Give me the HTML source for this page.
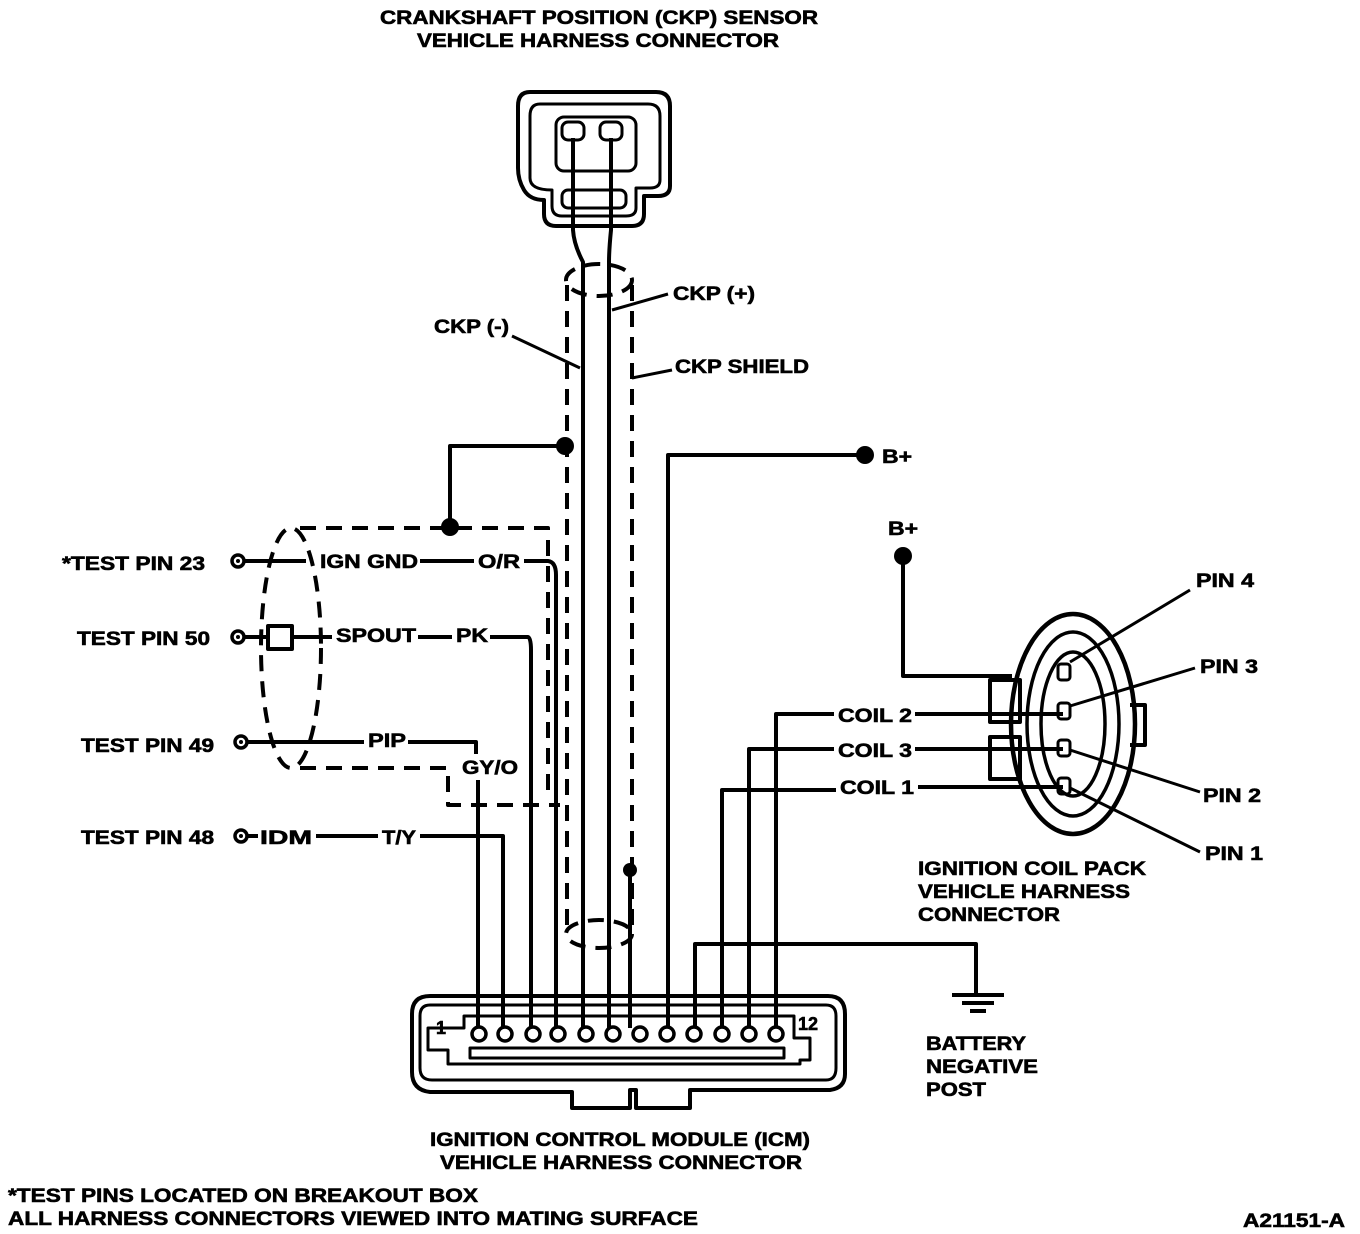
<!DOCTYPE html>
<html><head><meta charset="utf-8"><style>
html,body{margin:0;padding:0;background:#fff;}
svg{display:block;}
text{font-family:"Liberation Sans",Arial,sans-serif;font-weight:bold;fill:#000;stroke:#000;stroke-width:0.6;}
</style></head><body>
<svg width="1360" height="1234" viewBox="0 0 1360 1234" xmlns="http://www.w3.org/2000/svg">
<g font-size="19">
<text x="380" y="24" textLength="438" lengthAdjust="spacingAndGlyphs">CRANKSHAFT POSITION (CKP) SENSOR</text>
<text x="417" y="47" textLength="362" lengthAdjust="spacingAndGlyphs">VEHICLE HARNESS CONNECTOR</text>
<text x="430" y="1146" textLength="380" lengthAdjust="spacingAndGlyphs">IGNITION CONTROL MODULE (ICM)</text>
<text x="440" y="1169" textLength="362" lengthAdjust="spacingAndGlyphs">VEHICLE HARNESS CONNECTOR</text>
<text x="8" y="1202" textLength="470" lengthAdjust="spacingAndGlyphs">*TEST PINS LOCATED ON BREAKOUT BOX</text>
<text x="8" y="1225" textLength="690" lengthAdjust="spacingAndGlyphs">ALL HARNESS CONNECTORS VIEWED INTO MATING SURFACE</text>
<text x="1243" y="1227" textLength="102" lengthAdjust="spacingAndGlyphs">A21151-A</text>
<text x="918" y="875" textLength="228" lengthAdjust="spacingAndGlyphs">IGNITION COIL PACK</text>
<text x="918" y="898" textLength="212" lengthAdjust="spacingAndGlyphs">VEHICLE HARNESS</text>
<text x="918" y="921" textLength="142" lengthAdjust="spacingAndGlyphs">CONNECTOR</text>
</g>
<g font-size="19">
<text x="926" y="1050" textLength="100" lengthAdjust="spacingAndGlyphs">BATTERY</text>
<text x="926" y="1073" textLength="112" lengthAdjust="spacingAndGlyphs">NEGATIVE</text>
<text x="926" y="1096" textLength="60" lengthAdjust="spacingAndGlyphs">POST</text>
<text x="673" y="300" textLength="82" lengthAdjust="spacingAndGlyphs">CKP (+)</text>
<text x="434" y="333" textLength="75" lengthAdjust="spacingAndGlyphs">CKP (-)</text>
<text x="675" y="373" textLength="134" lengthAdjust="spacingAndGlyphs">CKP SHIELD</text>
<text x="882" y="463" textLength="30" lengthAdjust="spacingAndGlyphs">B+</text>
<text x="888" y="535" textLength="30" lengthAdjust="spacingAndGlyphs">B+</text>
<text x="62" y="570" textLength="143" lengthAdjust="spacingAndGlyphs">*TEST PIN 23</text>
<text x="77" y="645" textLength="133" lengthAdjust="spacingAndGlyphs">TEST PIN 50</text>
<text x="81" y="752" textLength="133" lengthAdjust="spacingAndGlyphs">TEST PIN 49</text>
<text x="81" y="844" textLength="133" lengthAdjust="spacingAndGlyphs">TEST PIN 48</text>
<text x="320" y="568" textLength="98" lengthAdjust="spacingAndGlyphs">IGN GND</text>
<text x="478" y="568" textLength="42" lengthAdjust="spacingAndGlyphs">O/R</text>
<text x="336" y="642" textLength="80" lengthAdjust="spacingAndGlyphs">SPOUT</text>
<text x="456" y="642" textLength="32" lengthAdjust="spacingAndGlyphs">PK</text>
<text x="368" y="747" textLength="38" lengthAdjust="spacingAndGlyphs">PIP</text>
<text x="462" y="774" textLength="56" lengthAdjust="spacingAndGlyphs">GY/O</text>
<text x="260" y="844" textLength="52" lengthAdjust="spacingAndGlyphs">IDM</text>
<text x="382" y="844" textLength="34" lengthAdjust="spacingAndGlyphs">T/Y</text>
<text x="838" y="722" textLength="74" lengthAdjust="spacingAndGlyphs">COIL 2</text>
<text x="838" y="757" textLength="74" lengthAdjust="spacingAndGlyphs">COIL 3</text>
<text x="840" y="794" textLength="74" lengthAdjust="spacingAndGlyphs">COIL 1</text>
<text x="1196" y="587" textLength="58" lengthAdjust="spacingAndGlyphs">PIN 4</text>
<text x="1200" y="673" textLength="58" lengthAdjust="spacingAndGlyphs">PIN 3</text>
<text x="1203" y="802" textLength="58" lengthAdjust="spacingAndGlyphs">PIN 2</text>
<text x="1205" y="860" textLength="58" lengthAdjust="spacingAndGlyphs">PIN 1</text>
<text x="436" y="1034" font-size="18">1</text>
<text x="798" y="1030" font-size="18">12</text>
</g>
<g fill="none" stroke="#000" stroke-width="4" stroke-linejoin="round">
<path d="M530 92 H656 Q670 92 670 106 V186 Q670 196 658 196 H644 V214 Q644 226 632 226 H556 Q544 226 544 214 V200 Q530 200 524 190 Q518 180 518 168 V106 Q518 92 530 92 Z"/>
<path d="M540 104 H648 Q660 104 660 116 V180 Q660 188 650 188 H636 V208 Q636 216 626 216 H562 Q552 216 552 206 V190 Q530 190 530 178 V116 Q530 104 540 104 Z" stroke-width="3"/>
<rect x="556" y="117" width="80" height="54" rx="8" stroke-width="3"/>
<rect x="562" y="122" width="22" height="18" rx="6" stroke-width="3"/>
<rect x="600" y="122" width="22" height="18" rx="6" stroke-width="3"/>
<rect x="562" y="190" width="64" height="18" rx="6" stroke-width="3"/>
<path d="M573 138 V230 Q574 245 583 262 V1028"/>
<path d="M611 138 V230 Q609 250 609 262 V1028"/>
<path d="M668 294 L612 310 M512 336 L580 368 M672 370 L632 378" stroke-width="3"/>
<g stroke-dasharray="16 10">
<path d="M567 285 V925"/>
<path d="M632 285 V925"/>
<ellipse cx="599" cy="280" rx="33" ry="16"/>
<ellipse cx="599" cy="934" rx="33" ry="14"/>
<path d="M300 528 H548 V800"/>
<path d="M300 768 H448 V805 H560"/>
<ellipse cx="291" cy="648" rx="30" ry="120"/>
</g>
<path d="M630 872 V1028"/>
<path d="M565 446 H450 V527"/>
<path d="M245 561 H306 M420 561 H474 M524 561 H548 Q556 562 556 575 V1028"/>
<path d="M245 637 H268 M292 637 H332 M418 637 H452 M490 637 H528 Q531 638 531 650 V1028"/>
<path d="M248 742 H364 M408 742 H476 V754 M478 780 V1028"/>
<path d="M248 836 H256 M316 836 H378 M420 836 H503 V1028"/>
<rect x="268" y="626" width="24" height="23"/>
<path d="M865 455 H668 V1028"/>
<path d="M903 556 V676 H1012"/>
<path d="M776 1028 V714 H834 M915 714 H1063"/>
<path d="M749 1028 V749 H834 M915 749 H1063"/>
<path d="M722 1028 V790 H836 M918 787 H1063"/>
<path d="M695 1028 V944 H976 V995"/>
<path d="M952 995 H1004 M962 1003 H994 M970 1011 H986"/>
<ellipse cx="1073" cy="724" rx="62" ry="110" stroke-width="4.5"/>
<ellipse cx="1073" cy="724" rx="46" ry="92" stroke-width="3.5"/>
<ellipse cx="1073" cy="724" rx="32" ry="72" stroke-width="3.5"/>
<path d="M1130 705 H1145 V745 H1130"/>
<rect x="990" y="680" width="30" height="42"/>
<rect x="990" y="737" width="30" height="42"/>
<rect x="1058" y="664" width="12" height="16" rx="3" stroke-width="3"/>
<rect x="1058" y="703" width="12" height="16" rx="3" stroke-width="3"/>
<rect x="1058" y="740" width="12" height="16" rx="3" stroke-width="3"/>
<rect x="1058" y="778" width="12" height="16" rx="3" stroke-width="3"/>
<path d="M1190 590 L1070 662 M1195 668 L1070 706 M1200 792 L1070 750 M1200 852 L1070 788" stroke-width="3"/>
<path d="M430 996 H828 Q845 996 845 1014 V1074 Q845 1088 830 1090 L690 1090 V1108 H636 V1090 H630 V1108 H572 V1092 L430 1092 Q412 1090 412 1072 V1014 Q412 996 430 996 Z"/>
<path d="M430 1005 H826 Q836 1005 836 1016 V1068 Q836 1080 826 1080 H432 Q420 1080 420 1068 V1016 Q420 1005 430 1005 Z" stroke-width="3"/>
<path d="M464 1016 H794 V1038 H810 V1060 H800 V1064 H448 V1050 H428 V1028 H464 Z" stroke-width="3"/>
<rect x="470" y="1048" width="314" height="10" stroke-width="3"/>
</g>
<g fill="#fff" stroke="#000" stroke-width="3.5">
<circle cx="479" cy="1034" r="7"/><circle cx="505" cy="1034" r="7"/><circle cx="533" cy="1034" r="7"/>
<circle cx="558" cy="1034" r="7"/><circle cx="586" cy="1034" r="7"/><circle cx="613" cy="1034" r="7"/>
<circle cx="640" cy="1034" r="7"/><circle cx="667" cy="1034" r="7"/><circle cx="694" cy="1034" r="7"/>
<circle cx="722" cy="1034" r="7"/><circle cx="749" cy="1034" r="7"/><circle cx="776" cy="1034" r="7"/>
<circle cx="238" cy="561" r="6"/><circle cx="238" cy="637" r="6"/><circle cx="241" cy="742" r="6"/><circle cx="241" cy="836" r="6"/>
</g>
<g fill="#000">
<circle cx="238" cy="561" r="2"/><circle cx="238" cy="637" r="2"/><circle cx="241" cy="742" r="2"/><circle cx="241" cy="836" r="2"/>
<circle cx="565" cy="446" r="9"/><circle cx="450" cy="527" r="9"/><circle cx="865" cy="455" r="9"/>
<circle cx="903" cy="556" r="9"/><circle cx="630" cy="870" r="7"/>
<rect x="248" y="834" width="10" height="4"/>
</g>
</svg>
</body></html>
